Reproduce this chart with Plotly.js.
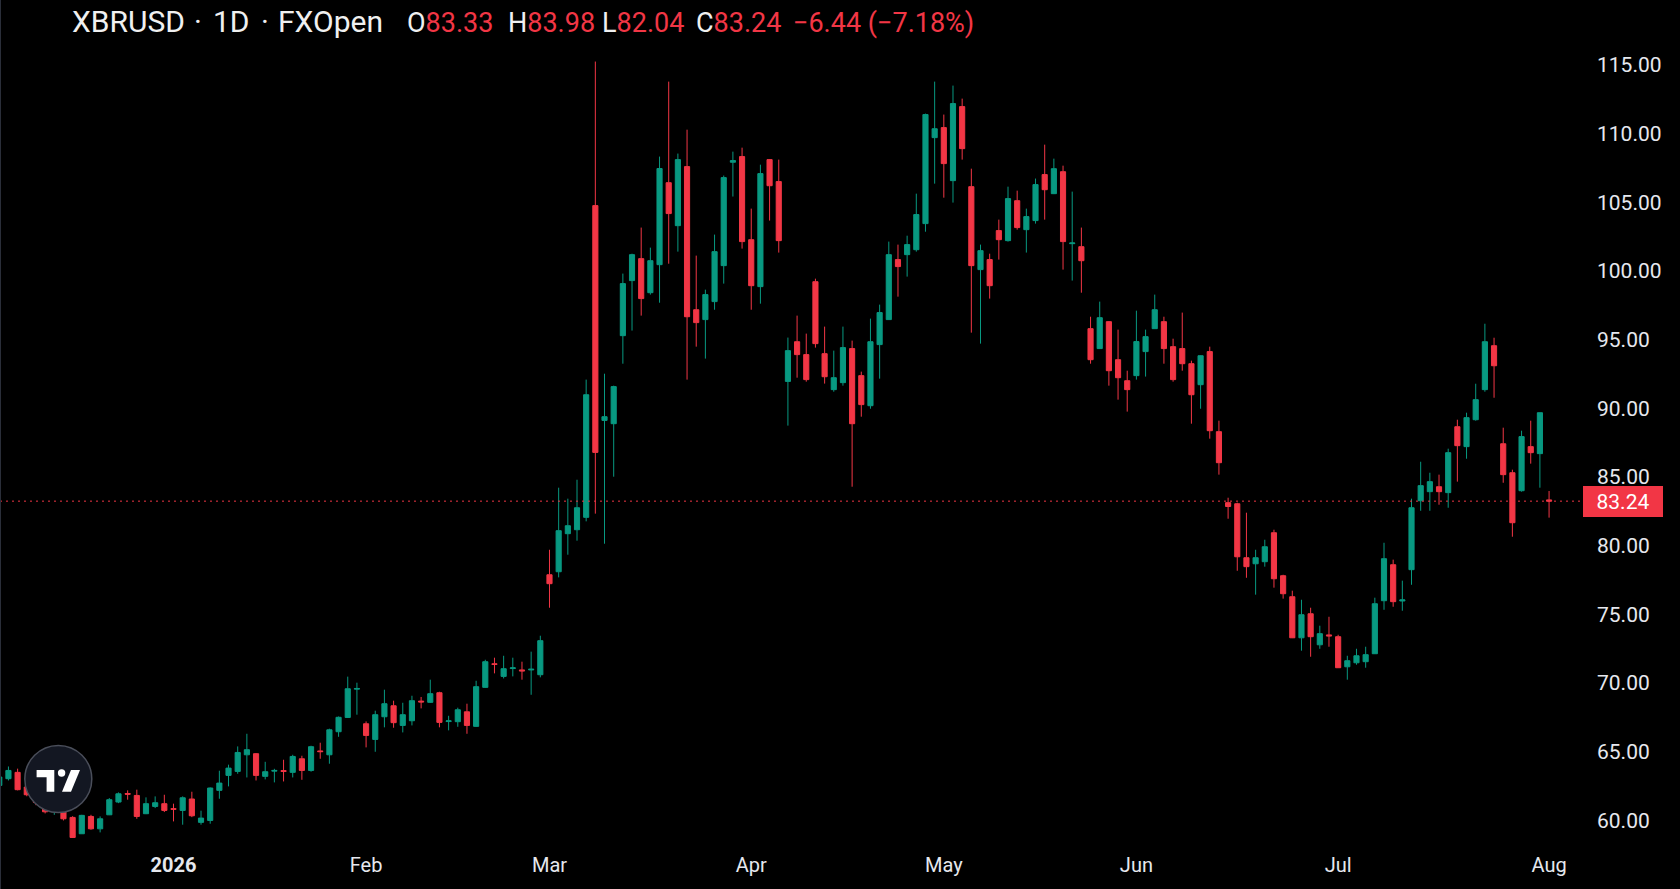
<!DOCTYPE html>
<html>
<head>
<meta charset="utf-8">
<script src="https://cdn.plot.ly/plotly-3.0.1.min.js"></script>
<style>
html,body{margin:0;padding:0;background:#000;overflow:hidden;}
#chart{width:1680px;height:889px;}
</style>
</head>
<body>
<div id="chart"></div>
<script>
// Trading days (categories)
const dates = [
"2025-12-04","2025-12-05","2025-12-08","2025-12-09","2025-12-10","2025-12-11","2025-12-12","2025-12-15","2025-12-16","2025-12-17",
"2025-12-18","2025-12-19","2025-12-22","2025-12-23","2025-12-24","2025-12-26","2025-12-29","2025-12-30","2025-12-31",
"2026-01-02","2026-01-05","2026-01-06","2026-01-07","2026-01-08","2026-01-09","2026-01-12","2026-01-13","2026-01-14","2026-01-15",
"2026-01-16","2026-01-19","2026-01-20","2026-01-21","2026-01-22","2026-01-23","2026-01-26","2026-01-27","2026-01-28","2026-01-29","2026-01-30",
"2026-02-02","2026-02-03","2026-02-04","2026-02-05","2026-02-06","2026-02-09","2026-02-10","2026-02-11","2026-02-12","2026-02-13",
"2026-02-16","2026-02-17","2026-02-18","2026-02-19","2026-02-20","2026-02-23","2026-02-24","2026-02-25","2026-02-26","2026-02-27",
"2026-03-02","2026-03-03","2026-03-04","2026-03-05","2026-03-06","2026-03-09","2026-03-10","2026-03-11","2026-03-12","2026-03-13",
"2026-03-16","2026-03-17","2026-03-18","2026-03-19","2026-03-20","2026-03-23","2026-03-24","2026-03-25","2026-03-26","2026-03-27","2026-03-30","2026-03-31",
"2026-04-01","2026-04-02","2026-04-06","2026-04-07","2026-04-08","2026-04-09","2026-04-10","2026-04-13","2026-04-14","2026-04-15",
"2026-04-16","2026-04-17","2026-04-20","2026-04-21","2026-04-22","2026-04-23","2026-04-24","2026-04-27","2026-04-28","2026-04-29","2026-04-30",
"2026-05-01","2026-05-04","2026-05-05","2026-05-06","2026-05-07","2026-05-08","2026-05-11","2026-05-12","2026-05-13","2026-05-14",
"2026-05-15","2026-05-18","2026-05-19","2026-05-20","2026-05-21","2026-05-22","2026-05-25","2026-05-26","2026-05-27","2026-05-28","2026-05-29",
"2026-06-01","2026-06-02","2026-06-03","2026-06-04","2026-06-05","2026-06-08","2026-06-09","2026-06-10","2026-06-11","2026-06-12",
"2026-06-15","2026-06-16","2026-06-17","2026-06-18","2026-06-19","2026-06-22","2026-06-23","2026-06-24","2026-06-25","2026-06-26","2026-06-29","2026-06-30",
"2026-07-01","2026-07-02","2026-07-03","2026-07-06","2026-07-07","2026-07-08","2026-07-09","2026-07-10","2026-07-13","2026-07-14",
"2026-07-15","2026-07-16","2026-07-17","2026-07-20","2026-07-21","2026-07-22","2026-07-23","2026-07-24","2026-07-27","2026-07-28","2026-07-29","2026-07-30","2026-07-31",
"2026-08-03"
];

const openP = [
62.54,63.03,63.49,62.42,61.86,61.30,60.62,60.75,60.21,59.02,60.28,59.38,60.40,61.33,61.95,61.81,60.48,61.01,61.21,
60.85,60.72,61.55,59.85,59.99,62.18,63.27,63.56,64.77,64.85,63.20,63.58,63.62,63.49,64.48,63.63,65.05,64.77,66.45,67.49,69.55,
67.03,65.89,67.54,68.34,66.91,67.25,68.68,68.59,69.29,67.19,67.18,67.90,66.84,69.68,71.40,70.48,71.05,70.95,70.95,70.60,
77.88,78.10,80.87,81.16,82.06,104.76,89.12,88.88,95.29,99.30,100.90,98.42,100.46,106.43,103.30,107.60,97.18,96.46,97.77,100.39,107.92,108.33,
102.28,98.86,108.11,106.51,91.96,94.85,93.91,99.22,93.98,91.36,91.87,94.35,92.38,90.19,94.64,96.46,100.83,101.19,101.55,103.45,109.71,
110.44,106.58,111.97,106.14,100.10,100.83,102.94,102.21,105.12,103.01,103.67,107.02,105.63,107.23,101.99,101.77,95.80,94.35,96.31,93.54,92.01,
92.38,94.13,95.80,96.31,94.49,94.35,93.25,91.72,94.13,88.30,83.13,83.05,79.12,78.68,78.83,80.94,77.81,76.28,73.29,75.04,72.78,73.50,
73.37,71.18,71.47,71.55,72.13,75.99,78.61,75.97,78.25,83.27,83.93,84.29,83.86,88.66,87.21,89.17,91.36,94.56,87.42,85.31,84.00,87.21,86.70,
83.33
];
const highP = [
63.30,63.92,63.76,62.50,62.00,61.50,61.20,60.90,60.30,60.40,60.40,60.28,61.62,62.03,62.18,62.23,61.67,61.74,61.86,
61.21,61.74,62.08,60.70,62.39,63.61,64.05,65.38,66.30,64.90,64.26,63.75,64.41,64.77,64.70,65.43,65.65,66.67,67.56,70.46,70.02,
67.20,67.98,69.51,68.71,68.56,69.07,68.98,70.24,69.36,67.61,68.20,68.49,70.16,71.69,71.84,71.98,71.84,71.55,72.28,73.44,
79.70,84.22,83.42,84.80,92.09,115.25,92.52,91.65,99.81,101.26,103.16,101.70,108.33,113.79,108.55,110.29,101.12,98.64,102.65,106.95,108.69,108.98,
104.54,107.74,108.15,108.11,95.15,96.75,95.44,99.44,95.95,94.20,95.95,94.93,92.67,96.53,97.55,102.14,101.92,102.57,105.63,111.46,113.79,
111.39,113.50,112.55,107.45,101.92,101.26,103.74,106.14,105.85,104.54,106.73,109.20,108.18,107.67,105.78,103.16,96.67,97.77,96.35,95.73,92.74,
97.11,95.73,98.28,96.67,95.07,96.97,93.47,93.85,94.49,89.10,83.49,83.13,82.40,79.70,80.43,81.16,77.88,76.72,76.06,75.48,74.17,74.82,
73.51,71.98,72.49,72.64,76.21,80.21,78.98,77.45,83.42,86.11,85.31,85.17,87.06,89.17,89.68,91.79,96.16,95.14,88.59,85.53,88.37,89.10,89.68,
83.98
];
const lowP = [
62.40,62.90,62.18,61.75,61.10,60.50,60.40,59.99,58.72,59.00,59.31,59.12,60.38,61.25,61.50,60.11,60.45,60.89,60.60,
59.92,59.68,60.23,59.68,59.75,61.57,62.47,63.39,63.12,62.90,62.98,62.76,62.83,63.12,62.95,63.54,64.48,64.12,66.08,67.45,67.69,
65.31,64.99,66.77,66.74,66.40,66.91,68.15,68.55,66.77,66.55,66.81,66.30,66.80,69.65,70.70,70.33,70.48,70.24,69.14,70.41,
75.48,77.69,79.34,80.36,81.77,82.33,80.14,85.02,93.25,95.66,96.75,98.28,97.69,100.53,101.41,92.09,94.49,93.62,97.18,99.08,105.42,101.63,
97.18,97.62,103.67,101.34,88.74,92.23,91.94,94.42,91.80,91.21,91.65,84.29,89.39,89.97,92.16,96.44,98.13,99.59,101.41,102.86,106.36,
105.34,104.98,108.11,95.51,94.71,97.99,100.83,102.14,103.01,101.34,103.45,103.74,105.60,100.10,99.30,98.42,93.25,94.33,91.65,90.63,89.76,
92.09,92.31,95.78,93.25,91.94,92.74,88.88,89.97,87.79,85.17,81.96,78.17,77.66,76.43,78.47,76.94,76.14,73.27,72.35,71.91,72.49,72.64,
71.09,70.24,71.33,71.11,72.11,75.33,75.55,75.26,77.15,82.54,82.54,82.98,82.76,84.66,86.33,89.10,91.21,90.77,84.58,80.65,83.93,85.97,84.22,
82.04
];
const closeP = [
63.15,63.63,62.23,61.86,61.30,60.62,61.00,60.11,58.75,60.36,59.38,60.11,61.50,61.93,61.90,60.28,61.21,61.28,60.72,
60.80,61.64,60.33,60.16,62.35,62.71,63.80,64.94,65.14,63.27,63.54,63.63,63.56,64.65,63.63,65.36,65.00,66.59,67.50,69.58,69.60,
66.18,67.69,68.49,67.11,67.69,68.71,68.62,69.22,67.13,67.24,68.05,66.91,69.73,71.55,71.35,71.04,71.10,70.88,71.00,73.08,
77.23,81.09,81.45,82.76,90.99,86.79,89.39,91.58,99.08,101.19,97.99,100.75,107.46,104.18,108.11,96.67,96.24,98.28,101.41,106.80,108.04,102.14,
98.93,107.09,106.21,102.21,94.20,93.91,92.09,94.71,92.30,92.23,94.42,88.88,90.27,94.85,96.97,101.19,100.32,101.92,104.11,111.39,110.36,
107.82,112.19,108.91,100.39,101.48,98.93,102.28,105.27,103.16,103.96,106.29,105.92,107.45,102.14,102.04,100.75,93.54,96.60,92.74,92.23,91.36,
94.86,95.22,97.18,94.35,92.09,93.25,90.99,93.83,88.37,86.04,82.85,79.19,78.47,79.12,79.92,77.59,76.50,73.29,74.97,73.37,73.59,73.43,
71.11,71.62,71.98,72.06,75.77,79.05,75.92,76.05,82.76,84.37,84.66,83.93,86.77,87.28,89.32,90.63,94.85,93.10,85.17,81.67,87.94,86.77,89.68,
83.24
];

// Axis labels
const xTickDates = ["2026-01-02","2026-02-02","2026-03-02","2026-04-01","2026-05-01","2026-06-01","2026-07-01","2026-08-03"];
const xTickLabels = ["<b>2026</b>","Feb","Mar","Apr","May","Jun","Jul","Aug"];
const yTickVals = [60,65,70,75,80,85,90,95,100,105,110,115];
const yTickLabels = ["60.00","65.00","70.00","75.00","80.00","85.00","90.00","95.00","100.00","105.00","110.00","115.00"];

// Header legend values
const symbolParts = ["XBRUSD", "·", "1D", "·", "FXOpen"];
const ohlcKeys = ["O", "H", "L", "C"];
const ohlcVals = ["83.33", "83.98", "82.04", "83.24"];
const changeText = "−6.44 (−7.18%)";
const lastPrice = 83.24;

const UP = "#089981", DOWN = "#F23645", TXT = "#E6E8EE", HEAD = "#F0F0F0";
const plotW = 1583;

const trace = {
  type: "candlestick",
  x: dates, open: openP, high: highP, low: lowP, close: closeP,
  increasing: {line: {color: UP, width: 1}, fillcolor: UP},
  decreasing: {line: {color: DOWN, width: 1}, fillcolor: DOWN},
  whiskerwidth: 0,
  hoverinfo: "skip",
  showlegend: false
};

const red = s => '<span style="color:' + DOWN + '">' + s + '</span>';

function headAnn(text, leftPx, size, yshift) {
  return {xref: "paper", yref: "paper", x: (leftPx - 1.8) / plotW, y: 1,
    xanchor: "left", yanchor: "top", yshift: yshift, showarrow: false, text: text, align: "left",
    font: {family: "Roboto, sans-serif", size: size, color: HEAD}};
}
const titleLefts = [72.2, 194, 213, 261, 278];
const headerAnns = symbolParts.map((t, k) => headAnn(t, titleLefts[k], 30, -1.7));
const ohlcLefts = [407, 508, 602, 696];
ohlcKeys.forEach((k, j) => headerAnns.push(headAnn(k + red(ohlcVals[j]), ohlcLefts[j], 27, -4.5)));
headerAnns.push(headAnn(red(changeText), 793, 27, -4.5));

const layout = {
  width: 1680, height: 889,
  margin: {l: 0, r: 97, t: 0, b: 46, pad: 0},
  paper_bgcolor: "#000000",
  plot_bgcolor: "#000000",
  boxgap: 0.2,
  showlegend: false,
  font: {family: "Roboto, sans-serif", color: TXT},
  xaxis: {
    type: "category",
    range: [0.08, 172.7],
    tickvals: xTickDates,
    ticktext: xTickLabels,
    showgrid: false, zeroline: false, showline: false,
    ticks: "", ticklabelstandoff: 8,
    tickfont: {family: "Roboto, sans-serif", size: 20, color: TXT},
    rangeslider: {visible: false},
    fixedrange: true
  },
  yaxis: {
    side: "right",
    range: [58.347, 119.733],
    tickvals: yTickVals,
    ticktext: yTickLabels,
    showgrid: false, zeroline: false, showline: false,
    ticks: "", ticklabelstandoff: 13,
    tickfont: {family: "Roboto, sans-serif", size: 21, color: TXT},
    fixedrange: true
  },
  shapes: [
    {type: "line", xref: "paper", x0: 0, x1: 1, yref: "y", y0: lastPrice, y1: lastPrice,
     line: {color: DOWN, width: 1, dash: "2px,4px"}, layer: "above"},
    {type: "line", xref: "paper", xsizemode: "pixel", xanchor: 0, x0: 0.5, x1: 0.5,
     yref: "paper", y0: -0.06, y1: 1, line: {color: "#2a2e39", width: 1}},
    {type: "circle", xref: "paper", yref: "paper", xsizemode: "pixel", ysizemode: "pixel",
     xanchor: 0, yanchor: 0, x0: 24.8, x1: 91.8, y0: 30.5, y1: 97.5,
     fillcolor: "#131722", line: {color: "#4a4e5a", width: 1.5}, layer: "above"},
    {type: "path", xref: "paper", yref: "paper", xsizemode: "pixel", ysizemode: "pixel",
     xanchor: 0, yanchor: 0,
     path: "M36.6,73 L54.3,73 L54.3,51.3 L46.6,51.3 L46.6,65.7 L36.6,65.7 Z",
     fillcolor: "#ffffff", line: {width: 0}, layer: "above"},
    {type: "circle", xref: "paper", yref: "paper", xsizemode: "pixel", ysizemode: "pixel",
     xanchor: 0, yanchor: 0, x0: 57.9, x1: 65.3, y0: 66.3, y1: 73.7,
     fillcolor: "#ffffff", line: {width: 0}, layer: "above"},
    {type: "path", xref: "paper", yref: "paper", xsizemode: "pixel", ysizemode: "pixel",
     xanchor: 0, yanchor: 0,
     path: "M71,73 L80,73 L71,51.3 L62,51.3 Z",
     fillcolor: "#ffffff", line: {width: 0}, layer: "above"}
  ],
  annotations: headerAnns.concat([
    {xref: "paper", yref: "y", x: 1, y: lastPrice, xanchor: "left", yanchor: "middle",
     showarrow: false, text: lastPrice.toFixed(2), bgcolor: DOWN, borderpad: 0, borderwidth: 0,
     width: 80, height: 31, align: "center",
     font: {family: "Roboto, sans-serif", size: 21, color: "#FFFFFF"}}
  ])
};

Plotly.newPlot("chart", [trace], layout, {displayModeBar: false, staticPlot: true});
</script>
</body>
</html>
